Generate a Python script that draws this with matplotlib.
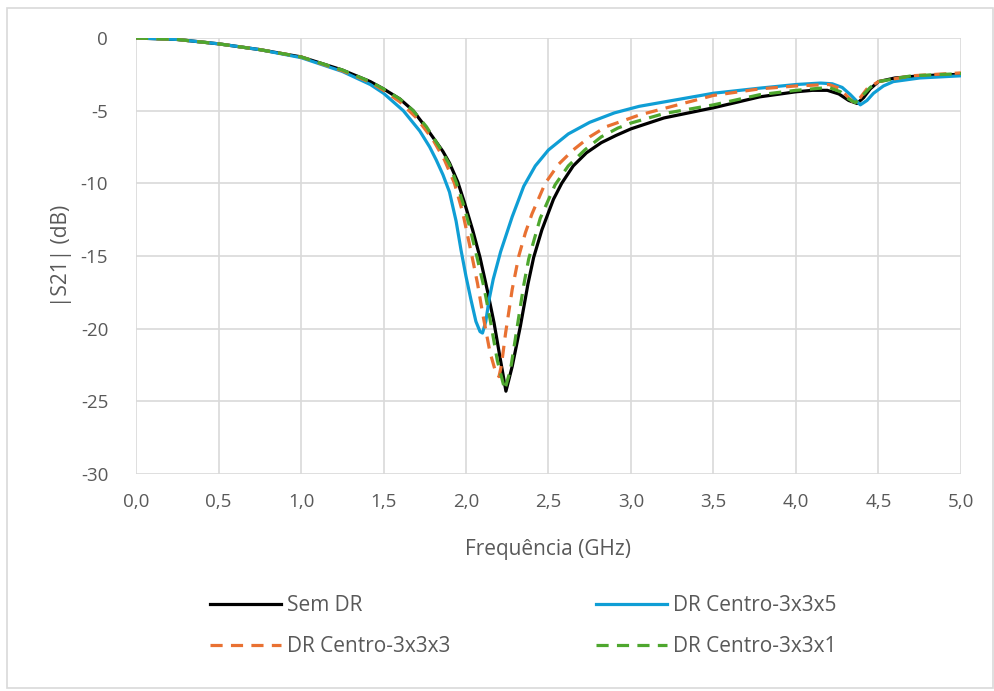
import matplotlib
matplotlib.use("Agg")
import matplotlib.pyplot as plt
from matplotlib.patches import Rectangle
from matplotlib.ticker import FuncFormatter, MultipleLocator

plt.rcParams['font.family'] = ['Open Sans', 'DejaVu Sans']

TEXT = '#595959'
GRID = '#d9d9d9'

# Sem DR
x_sem = [0, 0.25, 0.5, 0.75, 1.0, 1.25, 1.42, 1.5, 1.6, 1.68, 1.76, 1.86, 1.90, 1.95, 1.99,
         2.04, 2.085, 2.13, 2.17, 2.205, 2.242, 2.28, 2.33, 2.376, 2.41, 2.46, 2.53, 2.58,
         2.65, 2.73, 2.82, 2.91, 3.0, 3.2, 3.5, 3.78, 4.0, 4.1, 4.19, 4.26, 4.32, 4.37, 4.41,
         4.45, 4.5, 4.6, 4.7, 4.85, 5.0]
y_sem = [0, -0.1, -0.4, -0.8, -1.3, -2.2, -3.0, -3.5, -4.2, -5.0, -6.2, -7.8, -8.6, -9.9, -11.3,
         -13.2, -15.1, -17.4, -19.6, -21.9, -24.3, -22.6, -19.8, -16.9, -15.1, -13.2, -11.1, -10.0,
         -8.8, -7.9, -7.2, -6.7, -6.25, -5.5, -4.8, -4.05, -3.7, -3.6, -3.6, -3.85, -4.3, -4.5, -4.1,
         -3.5, -3.0, -2.75, -2.65, -2.55, -2.5]

# DR Centro-3x3x5
x_c5 = [0, 0.25, 0.5, 0.75, 1.0, 1.25, 1.42, 1.5, 1.62, 1.72, 1.78, 1.82, 1.86, 1.90, 1.94,
        1.97, 2.0, 2.03, 2.06, 2.085, 2.10, 2.12, 2.14, 2.165, 2.21, 2.28, 2.35, 2.42, 2.5,
        2.62, 2.75, 2.9, 3.05, 3.25, 3.5, 3.78, 4.0, 4.15, 4.22, 4.28, 4.33, 4.39, 4.43, 4.47,
        4.53, 4.59, 4.75, 5.0]
y_c5 = [0, -0.1, -0.4, -0.8, -1.35, -2.3, -3.2, -3.8, -5.0, -6.4, -7.5, -8.4, -9.4, -10.6, -12.6,
        -14.6, -16.4, -18.0, -19.5, -20.2, -20.3, -19.5, -18.0, -16.6, -14.7, -12.3, -10.2, -8.8,
        -7.7, -6.6, -5.8, -5.15, -4.7, -4.3, -3.8, -3.45, -3.2, -3.1, -3.15, -3.4, -3.9, -4.6,
        -4.3, -3.8, -3.3, -3.0, -2.75, -2.6]

# DR Centro-3x3x3
x_c3 = [0, 0.25, 0.5, 0.75, 1.0, 1.25, 1.42, 1.5, 1.6, 1.7, 1.8, 1.87, 1.93, 1.98, 2.036,
        2.07, 2.1, 2.145, 2.18, 2.2, 2.215, 2.24, 2.28, 2.32, 2.36, 2.4, 2.48, 2.56, 2.65,
        2.75, 2.85, 3.05, 3.25, 3.5, 3.78, 4.0, 4.2, 4.26, 4.31, 4.35, 4.39, 4.43, 4.5, 4.7, 5.0]
y_c3 = [0, -0.1, -0.4, -0.8, -1.3, -2.25, -3.05, -3.6, -4.4, -5.5, -7.0, -8.4, -10.0, -12.0,
        -15.0, -16.9, -18.9, -21.6, -23.0, -23.3, -22.5, -20.3, -17.3, -15.0, -13.4, -12.1, -10.0,
        -8.7, -7.7, -6.8, -6.1, -5.3, -4.7, -3.95, -3.5, -3.3, -3.2, -3.45, -4.0, -4.45, -4.1,
        -3.5, -3.0, -2.6, -2.4]

# DR Centro-3x3x1
x_c1 = [0, 0.25, 0.5, 0.75, 1.0, 1.25, 1.42, 1.5, 1.6, 1.68, 1.76, 1.85, 1.9, 1.94, 1.98,
        2.02, 2.065, 2.11, 2.15, 2.19, 2.235, 2.27, 2.31, 2.35, 2.38, 2.45, 2.54, 2.62, 2.72,
        2.82, 2.92, 3.0, 3.2, 3.5, 3.78, 4.0, 4.2, 4.27, 4.32, 4.36, 4.4, 4.45, 4.5, 4.7, 5.0]
y_c1 = [0, -0.1, -0.4, -0.8, -1.3, -2.2, -3.0, -3.5, -4.2, -5.0, -6.1, -7.7, -8.7, -9.9, -11.3,
        -12.9, -15.0, -17.2, -19.6, -22.2, -24.2, -22.8, -19.9, -17.0, -15.2, -12.4, -10.1, -8.8,
        -7.7, -6.8, -6.2, -5.85, -5.2, -4.6, -3.9, -3.6, -3.4, -3.7, -4.2, -4.45, -4.0, -3.4, -3.0,
        -2.6, -2.45]

fig = plt.figure(figsize=(9.95, 6.91), dpi=100)
ax = fig.add_axes([0.1367, 0.314, 0.8291, 0.631])

lw = 2.3
l_sem, = ax.plot(x_sem, y_sem, color='black', lw=lw, label='Sem DR', zorder=3)
l_c5, = ax.plot(x_c5, y_c5, color='#0F9ED5', lw=lw, label='DR Centro-3x3x5', zorder=4)
l_c3, = ax.plot(x_c3, y_c3, color='#E97132', lw=lw, dashes=(3.8, 2.6),
                label='DR Centro-3x3x3', zorder=5)
l_c1, = ax.plot(x_c1, y_c1, color='#4EA72E', lw=lw, dashes=(3.8, 2.6),
                label='DR Centro-3x3x1', zorder=6)

ax.set_xlim(0, 5)
ax.set_ylim(-30, 0)
ax.xaxis.set_major_locator(MultipleLocator(0.5))
ax.yaxis.set_major_locator(MultipleLocator(5))
ax.xaxis.set_major_formatter(FuncFormatter(lambda v, p: f'{v:.1f}'.replace('.', ',')))
ax.yaxis.set_major_formatter(FuncFormatter(lambda v, p: f'{v:.0f}'))
ax.grid(True, color=GRID, lw=1.2, zorder=0)
ax.set_axisbelow(True)
for s in ax.spines.values():
    s.set_visible(False)
ax.tick_params(length=0, labelsize=13.5, labelcolor=TEXT)
ax.tick_params(axis='y', pad=20)
ax.tick_params(axis='x', pad=14)
ax.set_xlabel('Frequência (GHz)', fontsize=15, color=TEXT, labelpad=20)
ax.set_ylabel('|S21| (dB)', fontsize=15, color=TEXT, labelpad=6)

leg = fig.legend([l_sem, l_c3, l_c5, l_c1],
                 ['Sem DR', 'DR Centro-3x3x3', 'DR Centro-3x3x5', 'DR Centro-3x3x1'],
                 ncol=2, loc='center left', bbox_to_anchor=(0.192, 0.094),
                 frameon=False, fontsize=15, labelcolor=TEXT,
                 handlelength=3.4, handletextpad=0.3, columnspacing=7.0,
                 labelspacing=0.95)

fig.patches.append(Rectangle((0.007, 0.004), 0.991, 0.984, transform=fig.transFigure,
                             fill=False, edgecolor=GRID, lw=1.2))

fig.savefig('out.png', dpi=100)
